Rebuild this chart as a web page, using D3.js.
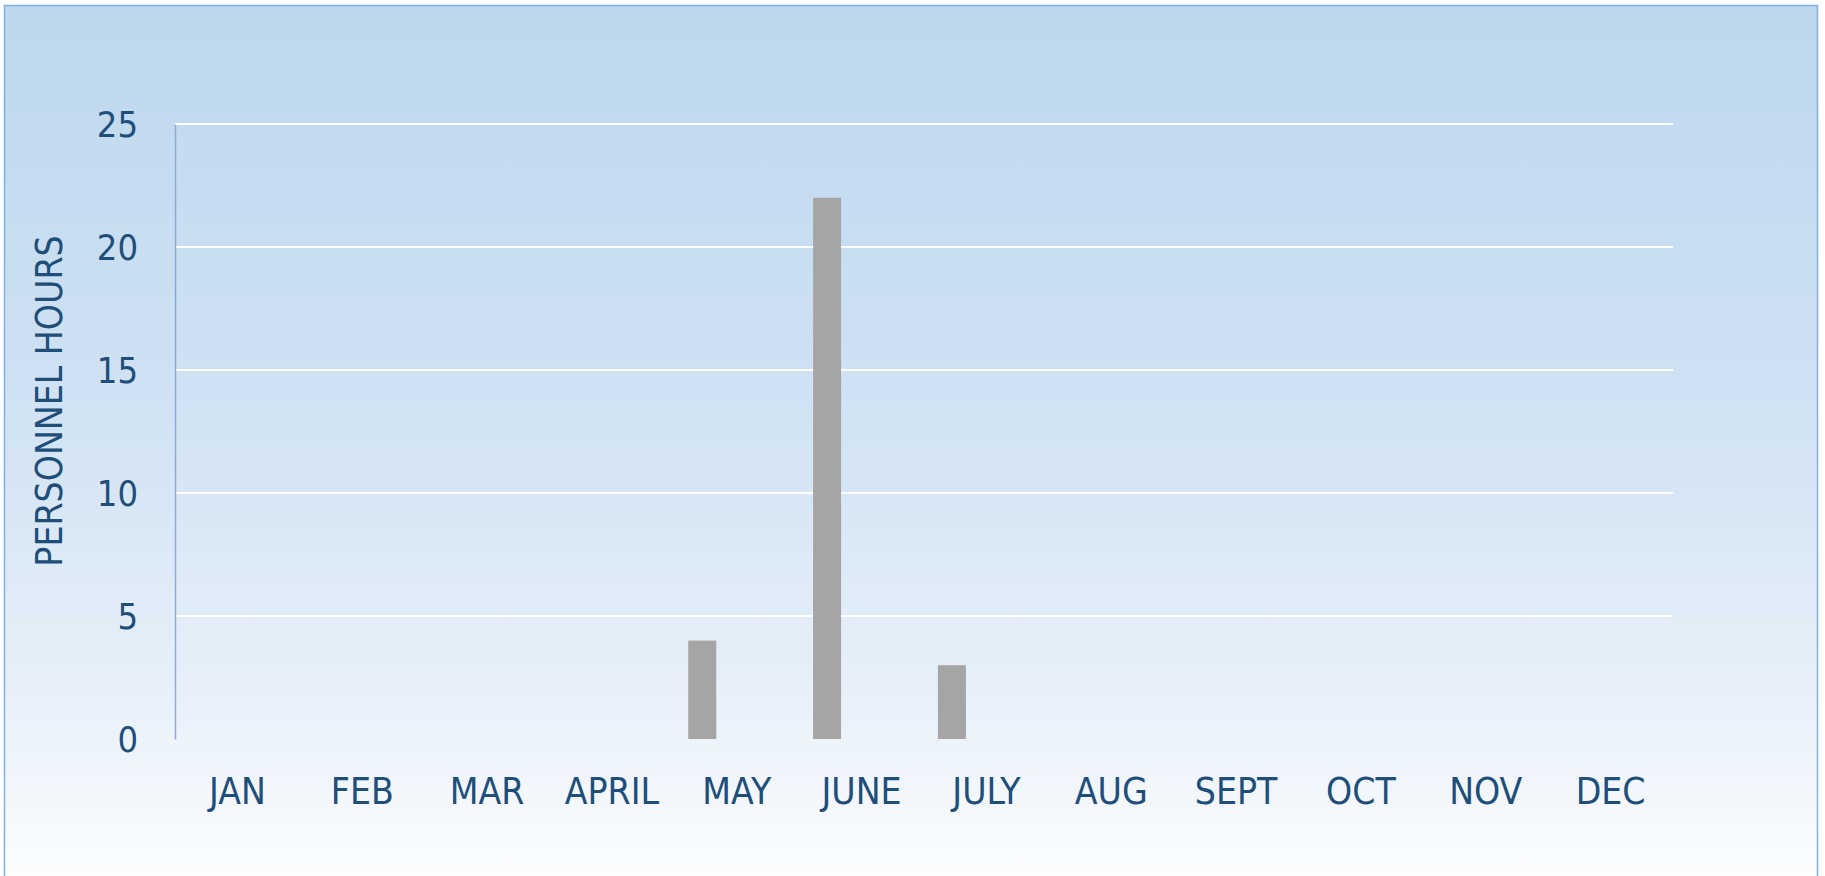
<!DOCTYPE html>
<html>
<head>
<meta charset="utf-8">
<script src="https://cdn.jsdelivr.net/npm/d3@7"></script>
<style>
  html, body { margin: 0; padding: 0; background: #ffffff; }
  svg { display: block; }
  .lbl { font-family: "DejaVu Sans Condensed", "DejaVu Sans", sans-serif; font-stretch: condensed; fill: #1f4e79; }
</style>
</head>
<body>
<svg id="chart" width="1825" height="876"></svg>
<script>
const months = ["JAN", "FEB", "MAR", "APRIL", "MAY", "JUNE", "JULY", "AUG", "SEPT", "OCT", "NOV", "DEC"];
const hours = [0, 0, 0, 0, 4, 22, 3, 0, 0, 0, 0, 0];
const yTicks = [0, 5, 10, 15, 20, 25];
const yTitle = "PERSONNEL HOURS";

const W = 1825, H = 876;
const plot = { left: 175, right: 1673, top: 124, bottom: 739 };
const barWidth = 28, barShift = -48.5;

const svg = d3.select("#chart");
const defs = svg.append("defs");
const grad = defs.append("linearGradient").attr("id", "bg").attr("x1", 0).attr("y1", 0).attr("x2", 0).attr("y2", 1);
grad.append("stop").attr("offset", "0%").attr("stop-color", "#bdd7ee");
grad.append("stop").attr("offset", "45%").attr("stop-color", "#d0e2f3");
grad.append("stop").attr("offset", "80%").attr("stop-color", "#e9f1fa");
grad.append("stop").attr("offset", "100%").attr("stop-color", "#fdfeff");

svg.append("rect").attr("x", 0).attr("y", 0).attr("width", W).attr("height", H).attr("fill", "#ffffff");
svg.append("rect").attr("x", 4.5).attr("y", 5.5).attr("width", 1813).attr("height", 880)
  .attr("fill", "url(#bg)").attr("stroke", "#7fb0e2").attr("stroke-width", 1.5);

const x = d3.scaleBand().domain(months).range([plot.left, plot.right]).padding(0);
const y = d3.scaleLinear().domain([0, 25]).range([plot.bottom, plot.top]);

// gridlines
svg.append("g").selectAll("line").data(yTicks.filter(d => d > 0)).join("line")
  .attr("x1", plot.left).attr("x2", plot.right)
  .attr("y1", d => y(d)).attr("y2", d => y(d))
  .attr("stroke", "#ffffff").attr("stroke-width", 2);

// y axis
const yAxis = d3.axisLeft(y).tickValues(yTicks).tickSize(0).tickPadding(37).tickFormat(d3.format("d"));
const gy = svg.append("g").attr("transform", `translate(${plot.left},0)`).call(yAxis);
gy.select(".domain").attr("stroke", "#8eaadb").attr("stroke-width", 1.5);
gy.selectAll("text").attr("class", "lbl").style("font-size", "36px").attr("dy", "0.36em");

// x axis (labels only)
const xAxis = d3.axisBottom(x).tickSize(0).tickPadding(54);
const gx = svg.append("g").attr("transform", `translate(0,${plot.bottom})`).call(xAxis);
gx.select(".domain").remove();
gx.selectAll("text").attr("class", "lbl").style("font-size", "37px").attr("dy", "0.3em");

// bars
svg.append("g").selectAll("rect").data(months.map((m, i) => ({ m, v: hours[i] })).filter(d => d.v > 0)).join("rect")
  .attr("x", d => x(d.m) + x.bandwidth() / 2 + barShift)
  .attr("width", barWidth)
  .attr("y", d => y(d.v))
  .attr("height", d => y(0) - y(d.v))
  .attr("fill", "#a5a5a5");

// y title
svg.append("text").attr("class", "lbl")
  .attr("transform", "translate(49,401) rotate(-90)")
  .attr("text-anchor", "middle").attr("dominant-baseline", "central")
  .style("font-size", "37px")
  .text(yTitle);
</script>
</body>
</html>
